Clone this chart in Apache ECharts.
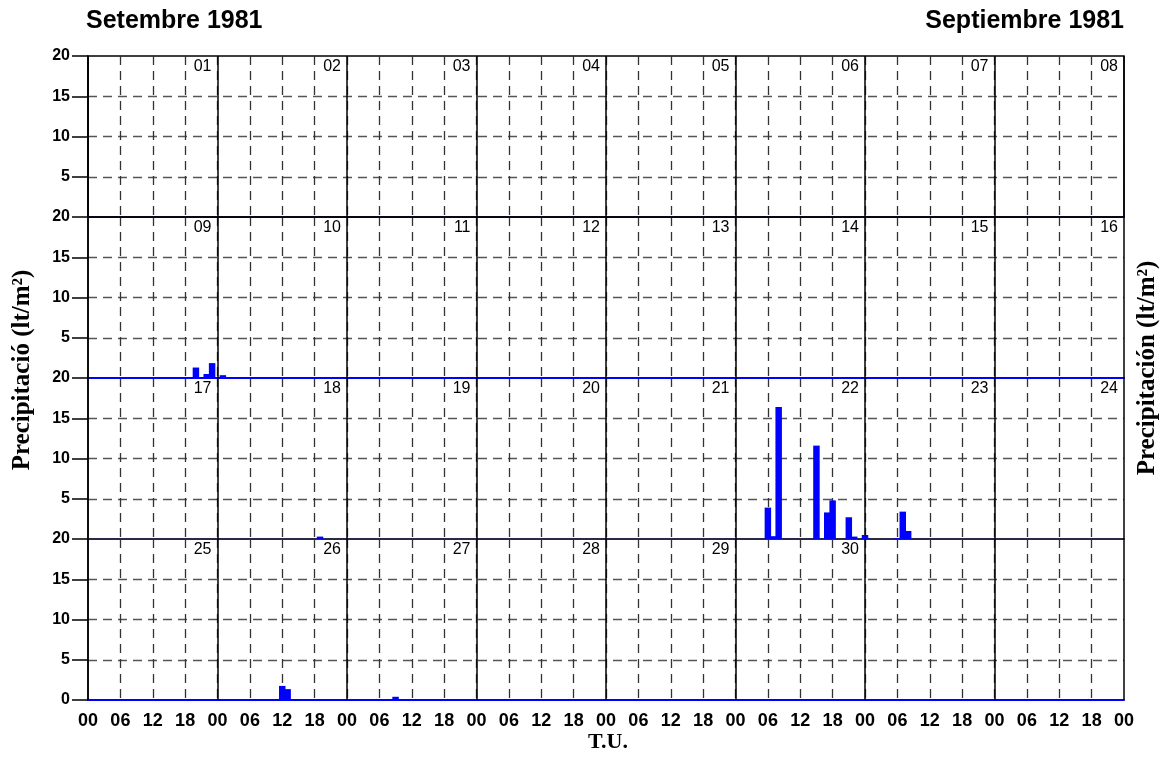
<!DOCTYPE html>
<html>
<head>
<meta charset="utf-8">
<script src="https://cdn.jsdelivr.net/npm/echarts@6/dist/echarts.min.js"></script>
<style>html,body{margin:0;padding:0;background:#fff}#c{width:1168px;height:762px}</style>
</head>
<body>
<div id="c"></div>
<script>
// ---- data ----
const titleLeft = 'Setembre 1981';
const titleRight = 'Septiembre 1981';
const yTitleLeft = 'Precipitació (lt/m²)';
const yTitleRight = 'Precipitación (lt/m²)';
const xTitle = 'T.U.';
const dayLabels = ['01','02','03','04','05','06','07','08','09','10','11','12','13','14','15','16',
                   '17','18','19','20','21','22','23','24','25','26','27','28','29','30'];
const hourLabels = ['00','06','12','18'];
const yTicks = [0, 5, 10, 15, 20];
const barDay   = [9, 9, 9, 10, 18, 22, 22, 22, 22, 22, 22, 22, 22, 23, 23, 23, 23, 26, 26, 26, 27];
const barHour  = [20, 22, 23, 1, 19, 6, 7, 8, 15, 17, 18, 21, 22, 0, 6, 7, 8, 12, 13, 17, 9];
const barValue = [1.3, 0.5, 1.85, 0.35, 0.3, 3.9, 0.35, 16.4, 11.6, 3.3, 4.8, 2.7, 0.3, 0.5, 0.1, 3.4, 1.0, 1.75, 1.35, 0.1, 0.4];

// ---- layout ----
const ROWS = 4, DAYS_PER_ROW = 8, HRS = 24 * DAYS_PER_ROW;
const gridTop = 56, rowH = 161, gridLeft = 88, gridRight = 44;
const baseColors = ['#14146e', '#0000ff', '#2a2a48', '#0000ff'];
const sans = '"Liberation Sans", Arial, sans-serif';
const serif = '"Liberation Serif", "Times New Roman", serif';

const grids = [], xAxes = [], yAxes = [], series = [];
for (let r = 0; r < ROWS; r++) {
  grids.push({left: gridLeft, right: gridRight, top: gridTop + r * rowH, height: rowH,
              show: r === 0, borderColor: '#000', borderWidth: 1.5, backgroundColor: 'transparent'});
  // 6-hour axis (bottom): dashed split lines, coloured base line, labels on last row
  xAxes.push({type: 'value', gridIndex: r, position: 'bottom', min: 0, max: HRS, interval: 6,
    axisLine: {show: true, onZero: false, lineStyle: {color: baseColors[r], width: 2}},
    axisTick: {show: false},
    axisLabel: {show: r === ROWS - 1, margin: 12, color: '#000', fontSize: 18, fontWeight: 'bold', fontFamily: sans,
      formatter: v => hourLabels[(v % 24) / 6]},
    splitLine: {show: true, showMinLine: false, showMaxLine: false,
      lineStyle: {color: '#333', type: [9, 6], width: 1.3}}, z: 1});
  // 24-hour axis (top): solid day separators
  xAxes.push({type: 'value', gridIndex: r, position: 'top', min: 0, max: HRS, interval: 24,
    axisLine: {show: r === 0, lineStyle: {color: '#000', width: 1.5}},
    axisTick: {show: false}, axisLabel: {show: false},
    splitLine: {show: true, showMinLine: true, showMaxLine: true, lineStyle: {color: '#000', width: 1.5}}, z: 2});
  yAxes.push({type: 'value', gridIndex: r, min: 0, max: 20, interval: 5,
    axisLine: {show: true, lineStyle: {color: '#000', width: 1.5}},
    axisTick: {show: true, length: 16, lineStyle: {color: '#000', width: 1.5}},
    axisLabel: {margin: 18, color: '#000', fontSize: 16, fontWeight: 'bold', fontFamily: sans,
      formatter: v => (v === 0 && r < ROWS - 1) ? '' : String(v)},
    splitLine: {show: true, showMinLine: false, showMaxLine: false,
      lineStyle: {color: '#555', type: [9, 6], width: 1.3}}, z: 1});

  // bars for this row
  const data = [];
  for (let i = 0; i < barDay.length; i++) {
    const abs = (barDay[i] - 1) * 24 + barHour[i];
    if (Math.floor((barDay[i] - 1) / DAYS_PER_ROW) === r) data.push([abs - r * HRS, barValue[i]]);
  }
  series.push({type: 'custom', xAxisIndex: 2 * r, yAxisIndex: r, z: 5, data: data,
    renderItem: (params, api) => {
      const x = api.value(0), v = api.value(1);
      const p0 = api.coord([x - 0.6, v]);
      const p1 = api.coord([x + 0.6, 0]);
      return {type: 'rect', shape: {x: p0[0], y: p0[1], width: p1[0] - p0[0], height: p1[1] - p0[1]},
              style: {fill: '#0000ff'}};
    }});

  // day numbers
  const lbl = [];
  for (let c = 0; c < DAYS_PER_ROW; c++) {
    const d = r * DAYS_PER_ROW + c;
    if (d < dayLabels.length) lbl.push([(c + 1) * 24, 20, dayLabels[d]]);
  }
  series.push({type: 'custom', xAxisIndex: 2 * r, yAxisIndex: r, z: 6, data: lbl,
    renderItem: (params, api) => {
      const p = api.coord([api.value(0), api.value(1)]);
      return {type: 'text', x: p[0] - 6, y: p[1] + 3,
        style: {text: lbl[params.dataIndex][2], fill: '#000', align: 'right', verticalAlign: 'top',
                font: '16px ' + sans}};
    }});
}

const chart = echarts.init(document.getElementById('c'), null, {renderer: 'canvas'});
chart.setOption({
  animation: false,
  backgroundColor: '#fff',
  grid: grids, xAxis: xAxes, yAxis: yAxes, series: series,
  graphic: [
    {type: 'text', left: 86, top: 9, style: {text: titleLeft, font: 'bold 25px ' + sans, fill: '#000'}},
    {type: 'text', right: 44, top: 9, style: {text: titleRight, font: 'bold 25px ' + sans, fill: '#000'}},
    {type: 'text', x: 23, y: 370, rotation: Math.PI / 2,
      style: {text: yTitleLeft, font: 'bold 25px ' + serif, fill: '#000', align: 'center', verticalAlign: 'middle'}},
    {type: 'text', x: 1148, y: 368, rotation: Math.PI / 2,
      style: {text: yTitleRight, font: 'bold 25px ' + serif, fill: '#000', align: 'center', verticalAlign: 'middle'}},
    {type: 'text', x: 608, y: 742,
      style: {text: xTitle, font: 'bold 22px ' + serif, fill: '#000', align: 'center', verticalAlign: 'middle'}}
  ]
});
</script>
</body>
</html>
